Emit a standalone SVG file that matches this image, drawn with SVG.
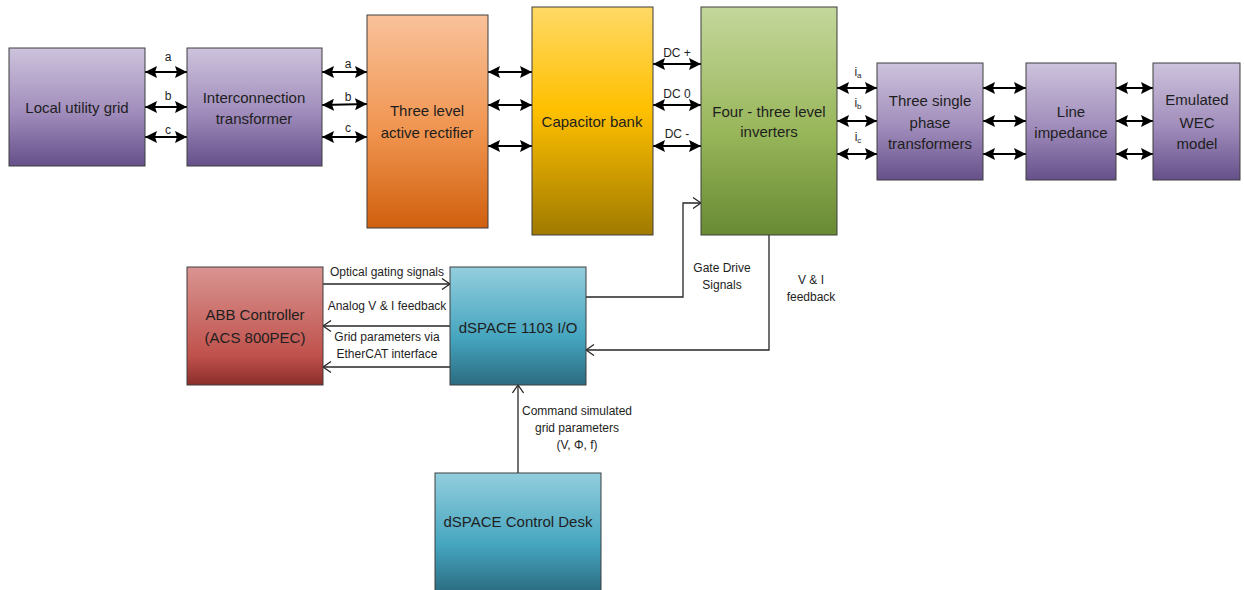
<svg xmlns="http://www.w3.org/2000/svg" width="1244" height="590" viewBox="0 0 1244 590">
<defs>
<linearGradient id="gPurple" x1="0" y1="0" x2="0" y2="1"><stop offset="0" stop-color="#cdc3dc"/><stop offset="0.55" stop-color="#a08cbb"/><stop offset="1" stop-color="#65508a"/></linearGradient>
<linearGradient id="gOrange" x1="0" y1="0" x2="0" y2="1"><stop offset="0" stop-color="#f9c29a"/><stop offset="0.55" stop-color="#f0944f"/><stop offset="1" stop-color="#d0600e"/></linearGradient>
<linearGradient id="gGold" x1="0" y1="0" x2="0" y2="1"><stop offset="0" stop-color="#ffd966"/><stop offset="0.45" stop-color="#ffc000"/><stop offset="1" stop-color="#a07a00"/></linearGradient>
<linearGradient id="gGreen" x1="0" y1="0" x2="0" y2="1"><stop offset="0" stop-color="#c4d79c"/><stop offset="0.55" stop-color="#98b65a"/><stop offset="1" stop-color="#688a33"/></linearGradient>
<linearGradient id="gRed" x1="0" y1="0" x2="0" y2="1"><stop offset="0" stop-color="#d99592"/><stop offset="0.75" stop-color="#c0514c"/><stop offset="1" stop-color="#8a2e2b"/></linearGradient>
<linearGradient id="gBlue" x1="0" y1="0" x2="0" y2="1"><stop offset="0" stop-color="#93cedd"/><stop offset="0.6" stop-color="#45a5bf"/><stop offset="1" stop-color="#2b6b80"/></linearGradient>
<marker id="fa" markerUnits="userSpaceOnUse" markerWidth="12" markerHeight="12" viewBox="0 0 12 12" refX="12" refY="6" orient="auto-start-reverse"><path d="M0,0 L12,6 L0,12 L2,6 z" fill="#000"/></marker>
<marker id="oa" markerUnits="userSpaceOnUse" markerWidth="10" markerHeight="12" viewBox="0 0 10 12" refX="9" refY="6" orient="auto"><path d="M1,0.5 L9,6 L1,11.5" fill="none" stroke="#262626" stroke-width="1.3"/></marker>
</defs>
<style>
.box{stroke:#3f3f3f;stroke-width:1}
.t{font-family:"Liberation Sans",Arial,sans-serif;font-size:15px;fill:#1e1e1e;text-anchor:middle;dominant-baseline:central}
.s{font-family:"Liberation Sans",Arial,sans-serif;font-size:12px;fill:#1e1e1e;text-anchor:middle;dominant-baseline:central}
.pw{stroke:#000;stroke-width:2;fill:none;marker-start:url(#fa);marker-end:url(#fa)}
.sg{stroke:#262626;stroke-width:1.3;fill:none;marker-end:url(#oa)}
</style>
<rect width="1244" height="590" fill="#fff"/>
<g id="connectors">
<line class="pw" x1="145" y1="72" x2="187" y2="72"/>
<line class="pw" x1="145" y1="107" x2="187" y2="107"/>
<line class="pw" x1="145" y1="137" x2="187" y2="137"/>
<line class="pw" x1="322" y1="72" x2="367" y2="72"/>
<line class="pw" x1="322" y1="105" x2="367" y2="104"/>
<line class="pw" x1="322" y1="137" x2="367" y2="137"/>
<line class="pw" x1="488" y1="72" x2="532" y2="72"/>
<line class="pw" x1="488" y1="105" x2="532" y2="105"/>
<line class="pw" x1="488" y1="146" x2="532" y2="146"/>
<line class="pw" x1="653" y1="64" x2="701" y2="64"/>
<line class="pw" x1="653" y1="105" x2="701" y2="105"/>
<line class="pw" x1="653" y1="146" x2="701" y2="146"/>
<line class="pw" x1="837" y1="88" x2="877" y2="88"/>
<line class="pw" x1="837" y1="121" x2="877" y2="121"/>
<line class="pw" x1="837" y1="154" x2="877" y2="154"/>
<line class="pw" x1="983" y1="88" x2="1026" y2="88"/>
<line class="pw" x1="983" y1="121" x2="1026" y2="121"/>
<line class="pw" x1="983" y1="154" x2="1026" y2="154"/>
<line class="pw" x1="1116" y1="88" x2="1153" y2="88"/>
<line class="pw" x1="1116" y1="121" x2="1153" y2="121"/>
<line class="pw" x1="1116" y1="154" x2="1153" y2="154"/>
<polyline class="sg" points="586,297 683,297 683,203 701,203"/>
<polyline class="sg" points="769,235 769,350 586,350"/>
<line class="sg" x1="323" y1="284" x2="450" y2="284"/>
<line class="sg" x1="450" y1="326" x2="323" y2="326"/>
<line class="sg" x1="450" y1="367" x2="323" y2="367"/>
<line class="sg" x1="518" y1="473" x2="518" y2="385"/>
<text class="s" x="168" y="57">a</text>
<text class="s" x="168" y="96">b</text>
<text class="s" x="168" y="130">c</text>
<text class="s" x="348" y="64">a</text>
<text class="s" x="348" y="97">b</text>
<text class="s" x="348" y="128">c</text>
<text class="s" x="677" y="53">DC +</text>
<text class="s" x="677" y="94">DC 0</text>
<text class="s" x="677" y="134">DC -</text>
<text class="s" x="858" y="72">i<tspan font-size="8" dy="3">a</tspan></text>
<text class="s" x="858" y="103">i<tspan font-size="8" dy="3">b</tspan></text>
<text class="s" x="858" y="137">i<tspan font-size="8" dy="3">c</tspan></text>
<text class="s" x="387" y="272">Optical gating signals</text>
<text class="s" x="387" y="306">Analog V &amp; I feedback</text>
<text class="s" x="387" y="337">Grid parameters via</text>
<text class="s" x="387" y="354">EtherCAT interface</text>
<text class="s" x="722" y="268">Gate Drive</text>
<text class="s" x="722" y="285">Signals</text>
<text class="s" x="811" y="280">V &amp; I</text>
<text class="s" x="811" y="297">feedback</text>
<text class="s" x="577" y="411">Command simulated</text>
<text class="s" x="577" y="428">grid parameters</text>
<text class="s" x="577" y="445">(V, Φ, f)</text>
</g>
<g id="local-grid"><rect class="box" x="9" y="48" width="136" height="118" fill="url(#gPurple)"/><text class="t" x="77" y="107">Local utility grid</text></g>
<g id="interconnection-transformer"><rect class="box" x="187" y="48" width="135" height="118" fill="url(#gPurple)"/><text class="t" x="254" y="97">Interconnection</text><text class="t" x="254" y="118">transformer</text></g>
<g id="rectifier"><rect class="box" x="367" y="15" width="121" height="213" fill="url(#gOrange)"/><text class="t" x="427" y="110">Three level</text><text class="t" x="427" y="132">active rectifier</text></g>
<g id="capacitor-bank"><rect class="box" x="532" y="7" width="121" height="228" fill="url(#gGold)"/><text class="t" x="592" y="121">Capacitor bank</text></g>
<g id="inverters"><rect class="box" x="701" y="7" width="136" height="228" fill="url(#gGreen)"/><text class="t" x="769" y="111">Four - three level</text><text class="t" x="769" y="131">inverters</text></g>
<g id="single-phase-transformers"><rect class="box" x="877" y="63" width="106" height="117" fill="url(#gPurple)"/><text class="t" x="930" y="100">Three single</text><text class="t" x="930" y="122">phase</text><text class="t" x="930" y="143">transformers</text></g>
<g id="line-impedance"><rect class="box" x="1026" y="63" width="90" height="117" fill="url(#gPurple)"/><text class="t" x="1071" y="111">Line</text><text class="t" x="1071" y="132">impedance</text></g>
<g id="wec-model"><rect class="box" x="1153" y="63" width="87" height="117" fill="url(#gPurple)"/><text class="t" x="1197" y="99">Emulated</text><text class="t" x="1197" y="122">WEC</text><text class="t" x="1197" y="143">model</text></g>
<g id="abb-controller"><rect class="box" x="187" y="267" width="136" height="118" fill="url(#gRed)"/><text class="t" x="255" y="314">ABB Controller</text><text class="t" x="255" y="337">(ACS 800PEC)</text></g>
<g id="dspace-io"><rect class="box" x="450" y="267" width="136" height="118" fill="url(#gBlue)"/><text class="t" x="518" y="327">dSPACE 1103 I/O</text></g>
<g id="control-desk"><rect class="box" x="435" y="473" width="166" height="120" fill="url(#gBlue)"/><text class="t" x="518" y="521">dSPACE Control Desk</text></g>
</svg>
